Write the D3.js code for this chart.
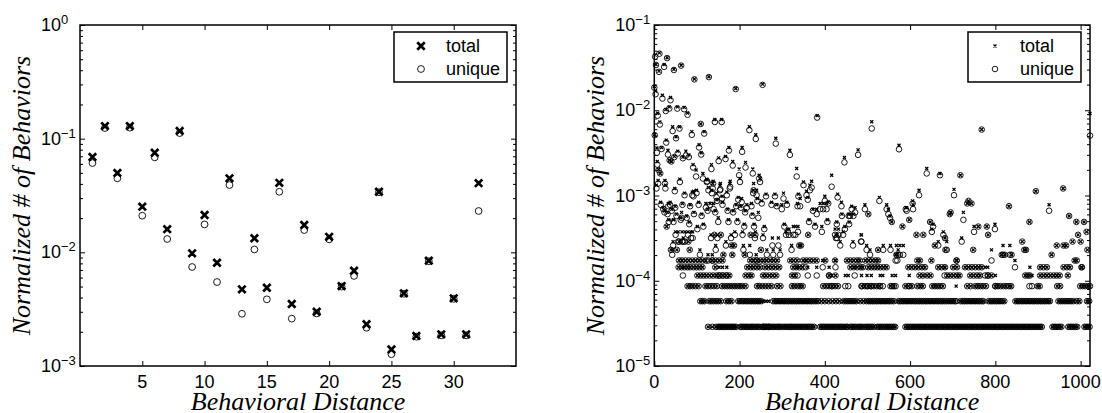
<!DOCTYPE html>
<html>
<head>
<meta charset="utf-8">
<script src="https://cdn.jsdelivr.net/npm/d3@7"></script>
<style>
  body { margin: 0; background: #fff; }
  svg text { fill: #000; }
</style>
</head>
<body>
<div id="chart"></div>
<script>
// Two log-scale scatter panels: total vs unique behaviours by behavioral distance

// ---- left panel data (distance 1..32) ----
const leftDist = d3.range(1, 33);
const leftTotal = [0.069, 0.129, 0.050, 0.129, 0.0252, 0.0752, 0.0160, 0.117, 0.0098, 0.0213,
  0.0081, 0.0448, 0.00473, 0.0133, 0.00488, 0.0409, 0.00351, 0.0174, 0.0030, 0.0137,
  0.00505, 0.00689, 0.00233, 0.0341, 0.0014, 0.00436, 0.00184, 0.00844, 0.0019, 0.00394,
  0.0019, 0.0406];
const leftUnique = [0.061, 0.124, 0.0448, 0.125, 0.0210, 0.0685, 0.0131, 0.112, 0.00743, 0.0176,
  0.00548, 0.0391, 0.00288, 0.0106, 0.00386, 0.0341, 0.00261, 0.0157, 0.0029, 0.0130,
  0.0050, 0.0062, 0.00217, 0.0338, 0.00127, 0.00432, 0.00181, 0.00835, 0.00186, 0.0039,
  0.00186, 0.0231];

// ---- right panel data, stored as counts (1 count = countUnit) ----
const countUnit = 2.88e-5;
// distances where total = unique = k counts
const rightLevel1 = [126, 136, 145, 150, 153, 156, 160, 163, 167, 170, 174, 178, 181, 185, 188, 192, 202, 205, 209, 213, 216, 220, 224, 228, 231, 235, 239, 243, 247, 253, 256, 260, 264, 268, 271, 275, 279, 283, 287, 291, 294, 298, 303, 307, 311, 315, 319, 322, 326, 330, 334, 338, 342, 346, 350, 354, 358, 362, 366, 370, 375, 389, 393, 397, 401, 405, 409, 413, 417, 421, 425, 429, 433, 437, 441, 445, 450, 453, 460, 464, 468, 472, 477, 481, 485, 489, 495, 499, 503, 507, 511, 516, 523, 527, 531, 535, 540, 544, 548, 552, 556, 561, 565, 589, 593, 597, 601, 605, 609, 613, 617, 621, 625, 629, 633, 637, 641, 645, 649, 653, 657, 661, 665, 669, 673, 677, 681, 685, 689, 693, 697, 701, 705, 709, 713, 717, 721, 725, 729, 733, 737, 741, 745, 749, 753, 757, 761, 765, 769, 773, 777, 781, 785, 789, 793, 797, 801, 805, 809, 813, 817, 821, 825, 829, 833, 837, 841, 845, 849, 853, 857, 861, 865, 869, 873, 877, 881, 885, 889, 893, 897, 901, 905, 909, 934, 938, 942, 947, 951, 955, 971, 975, 979, 983, 988, 992, 1009, 1013, 1017, 1021];
const rightLevel2 = [108, 113, 118, 129, 134, 139, 145, 150, 156, 169, 175, 181, 197, 201, 206, 210, 215, 219, 224, 228, 233, 237, 242, 246, 251, 279, 284, 288, 293, 297, 302, 306, 311, 315, 320, 324, 329, 333, 338, 342, 347, 351, 356, 360, 365, 369, 374, 379, 384, 392, 400, 409, 418, 426, 434, 444, 449, 454, 459, 464, 469, 474, 483, 491, 498, 503, 507, 512, 516, 521, 525, 530, 534, 539, 543, 548, 552, 557, 562, 573, 577, 582, 586, 591, 595, 600, 604, 609, 613, 618, 622, 627, 631, 636, 640, 645, 649, 654, 658, 663, 667, 672, 676, 681, 686, 691, 696, 701, 705, 718, 723, 727, 732, 736, 741, 745, 750, 754, 759, 763, 768, 772, 784, 789, 793, 798, 802, 807, 811, 816, 821, 847, 852, 856, 861, 865, 870, 874, 879, 883, 888, 892, 897, 901, 906, 910, 915, 919, 924, 928, 948, 953, 958, 963, 968, 973, 978, 983, 991, 997, 1015, 1020];
const rightLevel3 = [78, 84, 90, 97, 104, 120, 126, 133, 140, 147, 159, 165, 171, 177, 183, 189, 195, 201, 207, 214, 241, 247, 254, 261, 268, 275, 288, 296, 323, 329, 336, 342, 348, 396, 403, 410, 417, 424, 431, 487, 494, 501, 508, 515, 522, 528, 554, 562, 589, 596, 604, 617, 624, 630, 652, 658, 664, 670, 677, 734, 742, 753, 759, 765, 771, 778, 800, 806, 812, 819, 825, 832, 837, 899, 904, 945, 952, 999, 1005, 1011, 1017, 1022];
const rightLevel4 = [101, 108, 115, 122, 130, 138, 146, 153, 161, 169, 176, 214, 222, 228, 255, 262, 270, 278, 286, 323, 330, 410, 425, 622, 630, 640, 648, 687, 694, 702, 710, 716, 741, 749, 757, 764, 783, 791, 870, 876, 905, 913, 921, 929, 937, 944, 951, 970];
const rightLevel5 = [57, 64, 71, 78, 84, 92, 99, 106, 113, 143, 218, 226, 233, 241, 248, 260, 268, 276, 284, 293, 326, 333, 340, 348, 460, 468, 476, 484, 489, 502, 509, 516, 523, 530, 538, 545, 596, 604, 612, 620, 628, 635, 666, 674, 682, 701, 710, 729, 737, 745, 753, 761, 768, 905, 913, 921, 960, 968, 975, 1002, 1003];
const rightLevel6 = [58, 65, 73, 81, 89, 97, 105, 113, 121, 136, 144, 152, 160, 225, 233, 241, 249, 256, 263, 272, 280, 288, 319, 327, 335, 349, 357, 365, 373, 381, 401, 424, 452, 460, 468, 476, 482, 495, 503, 511, 519, 525, 617, 623, 709, 986, 991];
// remaining distances: [distance, total count, unique count]
const rightPoints = [
  [0, 660, 640], [1, 180, 177], [2, 1543, 1475], [3, 585, 536], [4, 1195, 1180], [6, 125, 110], [7, 87, 80], [8, 320, 300],
  [10, 70, 69], [11, 998, 980], [12, 1634, 1600], [13, 253, 236], [14, 63, 63], [17, 127, 122], [19, 521, 476], [23, 1195, 1121],
  [27, 355, 340], [28, 155, 145], [30, 1435, 1420], [32, 118, 105], [35, 380, 363], [36, 90, 90], [38, 489, 455], [40, 87, 87],
  [43, 222, 198], [46, 1050, 1030], [47, 100, 98], [51, 170, 163], [54, 380, 363], [55, 115, 108], [59, 222, 212], [63, 1173, 1160],
  [67, 98, 95], [70, 375, 357], [74, 115, 102], [78, 322, 307], [81, 104, 98], [88, 195, 179], [91, 80, 74], [94, 806, 800],
  [98, 69, 58], [105, 137, 127], [109, 240, 240], [110, 110, 105], [114, 63, 55], [117, 195, 185], [124, 53, 51], [128, 860, 850],
  [134, 80, 71], [137, 48, 42], [142, 270, 253], [151, 96, 88], [155, 48, 41], [158, 270, 253], [167, 100, 93], [175, 127, 117],
  [177, 48, 42], [184, 87, 78], [191, 625, 615], [199, 71, 60], [206, 127, 113], [214, 85, 74], [223, 222, 203], [231, 71, 63],
  [233, 48, 40], [238, 179, 160], [246, 60, 55], [254, 703, 690], [285, 163, 141], [318, 118, 104], [334, 72, 58],
  [5, 46, 42], [9, 52, 48], [25, 52, 48], [26, 46, 42], [60, 54, 50], [123, 54, 50], [138, 51, 48], [154, 46, 40], [178, 51, 44],
  [201, 55, 50], [248, 55, 50], [48, 42, 39], [71, 37, 35], [92, 39, 34], [89, 38, 35], [99, 40, 37], [127, 43, 40], [135, 40, 37],
  [146, 37, 33], [159, 34, 32], [170, 38, 35], [197, 33, 31], [205, 32, 29], [232, 40, 37], [240, 40, 35], [262, 36, 34], [283, 36, 34],
  [303, 37, 32], [338, 36, 34], [15, 29, 27], [33, 28, 26], [37, 29, 27], [21, 25, 24], [49, 26, 25], [66, 28, 27], [84, 27, 26],
  [104, 29, 27], [121, 28, 25], [131, 28, 27], [139, 28, 24], [147, 31, 30], [160, 29, 27], [192, 27, 26], [203, 26, 25], [217, 27, 25],
  [228, 28, 26], [242, 32, 30], [252, 30, 28], [275, 29, 27], [287, 27, 26], [299, 27, 24], [311, 29, 27], [336, 28, 26],
  [24, 23, 22], [31, 22, 21], [41, 24, 23], [52, 21, 20], [64, 22, 19], [76, 20, 19], [93, 22, 21], [111, 21, 20], [125, 24, 23],
  [143, 23, 22], [172, 24, 23], [185, 23, 22], [213, 23, 22], [230, 21, 20], [244, 22, 19],
  [29, 15, 15], [34, 18, 17], [45, 18, 17], [62, 19, 18], [82, 17, 16], [101, 15, 14], [115, 16, 15], [150, 19, 17], [174, 18, 17],
  [195, 18, 17], [211, 16, 15], [234, 16, 15], [258, 15, 14], [305, 16, 15], [326, 15, 12], [331, 15, 12],
  [50, 13, 12], [56, 13, 10], [65, 13, 10], [72, 13, 10], [79, 13, 12], [86, 13, 11], [90, 13, 11], [133, 12, 11], [141, 12, 12],
  [148, 12, 11], [156, 12, 12], [180, 12, 11], [189, 13, 12], [207, 13, 12], [226, 12, 12], [236, 12, 11], [237, 13, 12], [255, 12, 11],
  [277, 11, 9], [291, 11, 9], [309, 13, 12], [313, 14, 13], [316, 14, 12],
  [44, 10, 9], [58, 10, 10], [68, 11, 10], [80, 10, 10], [107, 8, 7], [144, 9, 8], [168, 10, 9], [181, 9, 9], [187, 9, 9],
  [209, 9, 8], [224, 9, 7], [250, 8, 8], [322, 9, 8], [340, 9, 9],
  [39, 8, 8], [42, 8, 7], [53, 8, 8], [83, 8, 8], [126, 7, 6], [136, 7, 6], [162, 7, 7], [183, 7, 7], [212, 7, 7], [239, 7, 6],
  [264, 8, 7], [279, 8, 7], [295, 8, 7],
  [256, 2, 1], [262, 2, 1], [268, 2, 1], [708, 3, 2], [880, 4, 3], [886, 4, 3],
  [67, 5, 4], [336, 5, 4], [360, 5, 4], [381, 5, 4], [416, 4, 3], [448, 4, 3], [455, 4, 3], [470, 5, 4], [486, 4, 3], [499, 4, 3],
  [509, 4, 3], [530, 4, 3], [536, 4, 3], [558, 4, 3], [566, 4, 3], [598, 4, 3], [681, 5, 4], [800, 4, 3],
  [152, 5, 4], [160, 5, 4], [170, 5, 4], [355, 6, 5], [395, 6, 5], [410, 5, 4], [425, 6, 5], [776, 5, 4], [782, 5, 4], [846, 6, 5],
  [881, 5, 4], [566, 7, 6], [570, 7, 6],
  [357, 39, 35], [369, 51, 43], [382, 300, 285], [400, 34, 30], [416, 60, 44], [350, 50, 46], [365, 46, 40], [430, 36, 33],
  [439, 29, 26], [342, 32, 26], [360, 33, 31], [372, 24, 23], [381, 24, 21], [389, 28, 24], [396, 28, 24], [404, 28, 24],
  [408, 29, 28], [406, 18, 17], [377, 16, 15], [393, 15, 13], [363, 18, 17], [337, 15, 13], [344, 9, 9], [361, 12, 12],
  [424, 14, 12], [432, 14, 12], [426, 12, 11], [443, 13, 12], [436, 10, 9], [459, 21, 20], [467, 21, 20], [457, 17, 16], [486, 12, 10],
  [1022, 318, 175], [768, 206, 206], [510, 254, 212], [574, 135, 121], [478, 119, 104], [446, 97, 85], [639, 72, 63], [670, 63, 60],
  [718, 60, 60], [703, 41, 35], [734, 28, 28], [744, 28, 28], [895, 39, 39], [959, 42, 42], [832, 26, 26], [926, 27, 23],
  [494, 27, 24], [528, 33, 30], [545, 27, 24], [606, 30, 28], [621, 40, 35], [592, 25, 23], [463, 26, 24], [471, 25, 22],
  [428, 17, 16], [440, 21, 20], [456, 21, 20], [502, 21, 21], [429, 12, 11], [447, 15, 14], [466, 10, 9], [485, 12, 10],
  [498, 9, 8], [506, 8, 7], [537, 9, 8], [525, 8, 8], [553, 20, 19], [557, 17, 17], [554, 9, 8], [568, 9, 7], [584, 9, 7],
  [572, 8, 7], [576, 9, 7], [615, 12, 12], [582, 15, 15], [598, 18, 18], [607, 27, 24], [647, 17, 17], [654, 16, 15], [682, 11, 11],
  [658, 9, 9], [686, 10, 8], [709, 6, 6], [650, 6, 6], [693, 21, 21], [725, 22, 18], [750, 15, 13], [760, 15, 15], [780, 15, 15],
  [783, 12, 12], [737, 30, 30], [721, 11, 10], [748, 8, 8], [791, 8, 6], [818, 9, 7], [834, 9, 7], [815, 7, 7], [822, 7, 7],
  [838, 7, 7], [863, 10, 10], [868, 8, 8], [880, 17, 17], [932, 7, 7], [944, 9, 9], [960, 9, 9], [973, 20, 20], [990, 17, 17],
  [1008, 17, 17], [994, 12, 12], [981, 10, 10], [1000, 10, 10], [1014, 13, 13], [1016, 8, 8],
  [549, 24, 21], [590, 25, 24], [631, 12, 12], [651, 14, 13], [666, 10, 9], [678, 13, 12], [695, 22, 22], [799, 16, 14],
  [683, 8, 8], [872, 8, 8], [966, 9, 9]
];

const leftXTicks = [5, 10, 15, 20, 25, 30];
const rightXTicks = [0, 200, 400, 600, 800, 1000];
const legendLabels = ["total", "unique"];

const W = 1102, H = 413;
const svg = d3.select("#chart").append("svg")
  .attr("width", W).attr("height", H)
  .style("font-family", "'Liberation Sans', Arial, sans-serif");

const plotTop = 25, plotBottom = 366;

const panels = [
  {
    left: 80, right: 516,
    x: d3.scaleLinear().domain([0, 35]).range([80, 516]),
    y: d3.scaleLog().domain([1e-3, 1]).range([plotBottom, plotTop]),
    xTicks: leftXTicks, decades: [-3, -2, -1, 0],
    rows: leftDist.map((d, i) => ({x: d, total: leftTotal[i], unique: leftUnique[i]})),
    xHalf: 3.7, xStroke: 2.7, r: 3.4, rStroke: 0.9,
    legendX: 394
  },
  {
    left: 654.3, right: 1090,
    x: d3.scaleLinear().domain([0, 1022]).range([654.3, 1090]),
    y: d3.scaleLog().domain([1e-5, 1e-1]).range([plotBottom, plotTop]),
    xTicks: rightXTicks, decades: [-5, -4, -3, -2, -1],
    rows: (() => {
      const rows = [];
      [rightLevel1, rightLevel2, rightLevel3, rightLevel4, rightLevel5, rightLevel6].forEach((xs, i) => {
        xs.forEach(x => rows.push({x: x, total: (i + 1) * countUnit, unique: (i + 1) * countUnit}));
      });
      rightPoints.forEach(p => rows.push({x: p[0], total: p[1] * countUnit, unique: p[2] * countUnit}));
      return rows;
    })(),
    xHalf: 1.5, xStroke: 1.3, r: 2.8, rStroke: 0.9,
    legendX: 968
  }
];

function xPath(h) {
  return `M${-h},${-h}L${h},${h}M${-h},${h}L${h},${-h}`;
}

panels.forEach(p => {
  const g = svg.append("g");

  // minor & major ticks on log y axis (inside, both sides)
  const minor = [];
  p.decades.slice(0, -1).forEach(e => {
    for (let k = 2; k <= 9; k++) minor.push(k * Math.pow(10, e));
  });
  const major = p.decades.map(e => Math.pow(10, e));

  g.append("g").attr("transform", `translate(${p.left},0)`)
    .call(d3.axisLeft(p.y).tickValues(minor).tickSize(-3).tickFormat(""));
  g.append("g").attr("transform", `translate(${p.left},0)`)
    .call(d3.axisLeft(p.y).tickValues(major).tickSize(-5).tickFormat(""));
  g.append("g").attr("transform", `translate(${p.right},0)`)
    .call(d3.axisRight(p.y).tickValues(minor).tickSize(-3).tickFormat(""));
  g.append("g").attr("transform", `translate(${p.right},0)`)
    .call(d3.axisRight(p.y).tickValues(major).tickSize(-5).tickFormat(""));
  g.append("g").attr("transform", `translate(0,${plotBottom})`)
    .call(d3.axisBottom(p.x).tickValues(p.xTicks).tickSize(-5).tickFormat(""));
  g.append("g").attr("transform", `translate(0,${plotTop})`)
    .call(d3.axisTop(p.x).tickValues(p.xTicks).tickSize(-5).tickFormat(""));
  g.selectAll(".domain").remove();
  g.selectAll(".tick line").attr("stroke", "#000").attr("stroke-width", 1);

  // box
  g.append("rect")
    .attr("x", p.left).attr("y", plotTop)
    .attr("width", p.right - p.left).attr("height", plotBottom - plotTop)
    .attr("fill", "none").attr("stroke", "#000").attr("stroke-width", 1.5);

  // y tick labels 10^e
  major.forEach((v, i) => {
    const t = g.append("text")
      .attr("x", p.left - 39).attr("y", p.y(v) + 6)
      .style("font-size", "18px");
    t.append("tspan").text("10");
    t.append("tspan").attr("dy", -7).style("font-size", "13px")
      .text(p.decades[i] < 0 ? "\u2212" + (-p.decades[i]) : String(p.decades[i]));
  });

  // x tick labels
  g.selectAll(".xlab").data(p.xTicks).enter().append("text")
    .attr("x", d => p.x(d)).attr("y", 388)
    .attr("text-anchor", "middle")
    .style("font-size", "18px")
    .text(d => d);

  // axis titles
  g.append("text")
    .attr("x", (p.left + p.right) / 2).attr("y", 410)
    .attr("text-anchor", "middle")
    .style("font-family", "'Liberation Serif', 'Times New Roman', serif")
    .style("font-style", "italic").style("font-size", "26px")
    .text("Behavioral Distance");
  g.append("text")
    .attr("transform", `translate(${p.left - 50},${(plotTop + plotBottom) / 2}) rotate(-90)`)
    .attr("text-anchor", "middle")
    .style("font-family", "'Liberation Serif', 'Times New Roman', serif")
    .style("font-style", "italic").style("font-size", "26px")
    .text("Normalized # of Behaviors");

  // markers: total (x) and unique (o)
  g.selectAll(".tot").data(p.rows.filter(d => d.total > 0)).enter().append("path")
    .attr("transform", d => `translate(${p.x(d.x)},${p.y(d.total)})`)
    .attr("d", xPath(p.xHalf))
    .attr("stroke", "#000").attr("stroke-width", p.xStroke).attr("fill", "none");
  g.selectAll(".uni").data(p.rows.filter(d => d.unique > 0)).enter().append("circle")
    .attr("cx", d => p.x(d.x)).attr("cy", d => p.y(d.unique))
    .attr("r", p.r)
    .attr("stroke", "#000").attr("stroke-width", p.rStroke).attr("fill", "none");

  // legend
  const lg = g.append("g").attr("transform", `translate(${p.legendX},32)`);
  lg.append("rect").attr("width", 113).attr("height", 50)
    .attr("fill", "#fff").attr("stroke", "#000").attr("stroke-width", 1.5);
  lg.append("path").attr("transform", "translate(27,14)")
    .attr("d", xPath(p.xHalf)).attr("stroke", "#000")
    .attr("stroke-width", p.xStroke).attr("fill", "none");
  lg.append("circle").attr("cx", 27).attr("cy", 37).attr("r", p.r)
    .attr("stroke", "#000").attr("stroke-width", p.rStroke).attr("fill", "none");
  lg.selectAll(".lt").data(legendLabels).enter().append("text")
    .attr("x", 52).attr("y", (d, i) => 20 + i * 23)
    .style("font-size", "18px")
    .text(d => d);
});
</script>
</body>
</html>
